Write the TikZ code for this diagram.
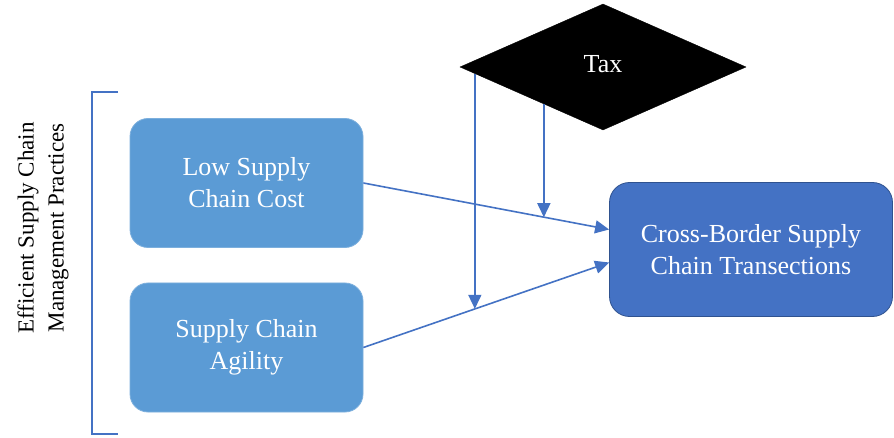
\documentclass[tikz,border=0pt]{standalone}
\usepackage{fontspec}
\setmainfont{Liberation Serif}
\usetikzlibrary{shapes.geometric,calc,arrows.meta}
\definecolor{lightbox}{HTML}{5B9BD5}
\definecolor{darkbox}{HTML}{4472C4}
\definecolor{darkedge}{HTML}{2F528F}
\definecolor{linkblue}{HTML}{4472C4}
\begin{document}
\begin{tikzpicture}[x=1pt,y=-1pt,
  lbox/.style={rounded corners=18pt, fill=lightbox, draw=lightbox!80!white, line width=0.8pt,
    minimum width=233pt, minimum height=129pt, align=center, text=white,
    font=\fontsize{26}{32}\selectfont},
  dbox/.style={rounded corners=20pt, fill=darkbox, draw=darkedge, line width=0.8pt,
    minimum width=283pt, minimum height=134pt, align=center, text=white,
    font=\fontsize{26}{32}\selectfont},
  link/.style={draw=linkblue, line width=1.6pt, -{Triangle[length=14pt,width=13pt]}},
  brk/.style={draw=linkblue, line width=1.3pt}]
\useasboundingbox (0,0) rectangle (894,438);
\fill[white] (0,0) rectangle (894,438);
% nodes
\node[lbox] (b1) at (246.5,183) {Low Supply\\Chain Cost};
\node[lbox] (b2) at (246.5,347.5) {Supply Chain\\Agility};
\node[dbox] (c) at (751,249.5) {Cross-Border Supply\\Chain Transections};
\node[diamond, fill=black, draw=black, inner sep=0pt, minimum width=286pt, minimum height=126pt] (tax) at (603,67) {};
\node[text=white, font=\fontsize{26}{30}\selectfont] (taxlabel) at (603,64) {Tax};
% bracket
\coordinate (bt) at (118,92);
\coordinate (bb) at (118,434);
\draw[brk] (bt) -- ++(-26,0) |- (bb);
% label
\node[rotate=90, align=center, font=\fontsize{23}{30}\selectfont] (lab) at (43,228)
  {Efficient Supply Chain\\Management Practices};
% main arrows
\coordinate (e1) at ($(c.west)+(0,-20)$);
\coordinate (e2) at ($(c.west)+(0,13)$);
\draw[link] (b1.east) -- (e1);
\draw[link] (b2.east) -- (e2);
% moderating arrows
\coordinate (t1) at ($(tax.west)!0.105!(tax.south)$);
\coordinate (t2) at ($(tax.west)!0.587!(tax.south)$);
\coordinate (m1) at ($(b2.east)!0.455!(e2)$);
\coordinate (m2) at ($(b1.east)!0.736!(e1)$);
\draw[link] (t1) -- (t1 |- m1);
\draw[link] (t2) -- (t2 |- m2);
\end{tikzpicture}
\end{document}
